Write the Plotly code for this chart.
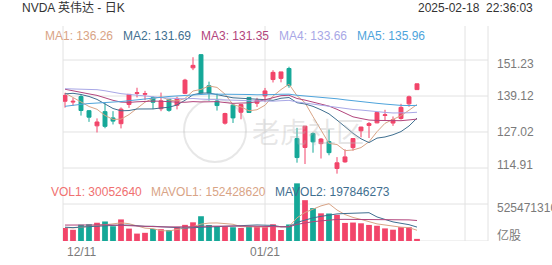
import plotly.graph_objects as go
import numpy as np

# ---------------- data ----------------
dates = ["12/11", "12/12", "12/13", "12/16", "12/17", "12/18", "12/19", "12/20", "12/23", "12/24",
         "12/26", "12/27", "12/30", "12/31", "01/02", "01/03", "01/06", "01/07", "01/08", "01/10",
         "01/13", "01/14", "01/15", "01/16", "01/17", "01/21", "01/22", "01/23", "01/24", "01/27",
         "01/28", "01/29", "01/30", "01/31", "02/03", "02/04", "02/05", "02/06", "02/07", "02/10",
         "02/11", "02/12", "02/13", "02/14", "02/18"]
opens = [137.36, 137.08, 138.94, 134.18, 129.09, 133.86, 131.76, 129.81, 136.28, 140.00,
         139.70, 138.55, 134.83, 138.03, 136.00, 140.01, 148.59, 153.03, 142.58, 137.45,
         129.99, 136.05, 133.65, 138.64, 136.69, 139.16, 144.66, 145.05, 148.37, 124.80,
         121.81, 126.50, 123.10, 123.78, 114.75, 116.96, 121.76, 127.42, 129.22, 130.09,
         132.58, 130.02, 131.56, 136.48, 141.27]
highs = [140.17, 138.44, 139.60, 134.40, 131.59, 136.70, 134.03, 135.28, 139.79, 141.90,
         140.85, 139.02, 140.27, 138.07, 138.88, 144.90, 152.16, 153.13, 143.95, 139.92,
         133.49, 136.38, 136.45, 138.75, 138.50, 141.83, 147.79, 147.23, 148.97, 128.40,
         129.00, 126.89, 125.00, 127.85, 118.57, 121.20, 125.00, 128.77, 130.37, 133.00,
         134.48, 132.24, 136.50, 139.25, 143.30]
lows = [135.21, 135.80, 132.54, 130.42, 126.86, 128.28, 129.55, 128.22, 135.12, 138.65,
        137.73, 134.71, 134.02, 133.83, 134.63, 139.73, 147.82, 140.01, 137.56, 134.22,
        129.51, 130.05, 131.29, 133.49, 135.46, 137.09, 143.67, 143.72, 141.88, 116.70,
        116.25, 120.05, 118.10, 119.19, 113.01, 116.70, 120.76, 125.21, 125.00, 129.96,
        131.02, 129.08, 131.17, 135.50, 141.20]
closes = [139.31, 137.34, 134.25, 132.00, 130.39, 128.91, 130.68, 134.70, 139.67, 140.22,
          139.93, 137.01, 137.49, 134.29, 138.31, 144.47, 149.43, 140.14, 140.11, 135.91,
          133.23, 131.76, 136.24, 133.57, 137.71, 140.83, 147.07, 147.22, 142.62, 118.42,
          128.99, 123.70, 124.65, 120.07, 116.66, 118.65, 124.83, 128.68, 129.84, 133.57,
          132.80, 131.14, 135.29, 138.85, 143.22]
volumes_m = [184.9, 159.2, 231.5, 237.9, 259.4, 277.4, 209.7, 306.5, 176.1, 105.2,
             116.2, 170.6, 167.7, 155.7, 198.2, 229.3, 265.4, 351.8, 227.3, 207.6,
             204.8, 195.6, 185.2, 209.2, 201.2, 197.7, 237.7, 155.9, 234.7, 818.8,
             579.7, 467.1, 392.9, 390.4, 371.2, 256.6, 262.2, 251.5, 228.2, 216.9,
             178.9, 160.3, 197.4, 195.5, 30.05]

# history before the first visible day (used only to warm up the moving averages)
prior_close = [113.37, 117.87, 116.00, 116.26, 120.87, 123.51, 124.04, 121.40, 121.44,
               117.00, 118.85, 122.85, 124.92, 127.72, 132.89, 132.65, 134.81, 134.80, 138.07,
               131.60, 135.72, 136.93, 138.00, 143.71, 143.59, 139.56, 140.41, 141.54, 140.52,
               141.25, 139.34, 132.76,
               135.40, 136.05, 139.91, 145.61, 148.88, 147.63, 145.26, 148.29, 146.27, 146.76,
               141.98, 140.15, 147.01, 145.89, 146.67, 141.95, 136.02, 136.92, 135.34, 138.25,
               138.63, 140.26, 145.14, 145.06, 142.44, 138.81, 135.07]
prior_volume_m = [191.9, 194.5, 250.1, 221.9, 227.8, 309.9, 400.9, 236.4, 344.9, 183.4,
                  226.4, 141.9, 171.7, 247.6, 231.2, 172.6, 188.1, 189.3, 210.0]

ma_periods = [5, 10, 20, 30, 60]
ma_labels = ["MA1: 136.26", "MA2: 131.69", "MA3: 131.35", "MA4: 133.66", "MA5: 135.96"]
vol_ma_periods = [5, 10, 20]
vol_labels = ["VOL1: 30052640", "MAVOL1: 152428620", "MAVOL2: 197846273"]

price_ticks = [151.23, 139.12, 127.02, 114.91]
vol_tick = 525471310
x_labels = [("12/11", 0), ("01/21", 25)]

# ---------------- styles ----------------
W, H = 552, 265
RED = "#f2456a"
TEAL = "#15a898"
MA_COLORS = ["#d9a486", "#3f6f90", "#b2457c", "#a8a7e6", "#4ea4dc"]
VOL_MA_COLORS = ["#d9a486", "#3f6f90", "#b2457c"]
VOL_TEXT_COLORS = ["#f07070", "#d9a486", "#3f6f90"]
GRID = "#e2e2e2"
FONT = "Liberation Sans, Arial, Noto Sans CJK SC, sans-serif"


def px(xp):
    return xp / W


def py(yp):
    return 1 - yp / H


def rolling(values, prior, p):
    allv = list(prior) + list(values)
    n0 = len(prior)
    return [float(np.mean(allv[n0 + i - p + 1:n0 + i + 1])) for i in range(len(values))]


n = len(dates)
xs = list(range(n))
volumes = [v * 1e6 for v in volumes_m]
prior_volume = [v * 1e6 for v in prior_volume_m]

fig = go.Figure()

# price
fig.add_trace(go.Candlestick(
    x=xs, open=opens, high=highs, low=lows, close=closes,
    increasing=dict(line=dict(color=RED, width=1), fillcolor=RED),
    decreasing=dict(line=dict(color=TEAL, width=1), fillcolor=TEAL),
    xaxis="x", yaxis="y", hoverinfo="skip"))

for p, c in zip(ma_periods, MA_COLORS):
    fig.add_trace(go.Scatter(x=xs, y=rolling(closes, prior_close, p), mode="lines",
                             line=dict(color=c, width=1), xaxis="x", yaxis="y",
                             hoverinfo="skip"))

# volume
bar_colors = [RED if c >= o else TEAL for o, c in zip(opens, closes)]
fig.add_trace(go.Bar(x=xs, y=volumes, marker=dict(color=bar_colors, line=dict(width=0)),
                     width=0.72, xaxis="x", yaxis="y2", hoverinfo="skip"))
for p, c in zip(vol_ma_periods, VOL_MA_COLORS):
    fig.add_trace(go.Scatter(x=xs, y=rolling(volumes, prior_volume, p), mode="lines",
                             line=dict(color=c, width=1), xaxis="x", yaxis="y2",
                             hoverinfo="skip"))

# axis geometry (pixels)
X_LEFT, X_RIGHT = 63, 488
P_TOP_TICK, P_BOT_TICK = 60, 168
P_DOM_TOP, P_DOM_BOT = 40, 178
scale = (P_BOT_TICK - P_TOP_TICK) / (price_ticks[0] - price_ticks[-1])
p_hi = price_ticks[0] + (P_TOP_TICK - P_DOM_TOP) / scale
p_lo = price_ticks[-1] - (P_DOM_BOT - P_BOT_TICK) / scale

V_BOT, V_TICK, V_TOP = 241, 204, 182
v_hi = vol_tick * (V_BOT - V_TOP) / (V_BOT - V_TICK)

step = 8.0
x0_px = 65
x_lo = (X_LEFT - x0_px) / step
x_hi = (X_RIGHT - x0_px) / step

shapes = []
# horizontal grid lines
for t in price_ticks:
    shapes.append(dict(type="line", xref="paper", yref="y", x0=px(X_LEFT), x1=px(X_RIGHT),
                       y0=t, y1=t, line=dict(color=GRID, width=1), layer="below"))
for t in [vol_tick, 0]:
    shapes.append(dict(type="line", xref="paper", yref="y2", x0=px(X_LEFT), x1=px(X_RIGHT),
                       y0=t, y1=t, line=dict(color=GRID, width=1), layer="below"))
# vertical grid lines
for xp in [X_LEFT, X_RIGHT]:
    shapes.append(dict(type="line", xref="paper", yref="paper", x0=px(xp), x1=px(xp),
                       y0=py(241), y1=py(26), line=dict(color=GRID, width=1), layer="below"))
for xv in [25, 50]:
    shapes.append(dict(type="line", xref="x", yref="paper", x0=xv, x1=xv,
                       y0=py(241), y1=py(26), line=dict(color=GRID, width=1), layer="below"))
# watermark circle
shapes.append(dict(type="circle", xref="paper", yref="paper", x0=px(184), x1=px(246),
                   y0=py(162), y1=py(99), line=dict(color="rgba(185,185,185,0.35)", width=2),
                   layer="below"))

ann = []


def text(x, y, s, color, size=12, xanchor="left", yanchor="middle", xref="paper", yref="paper"):
    ann.append(dict(x=x, y=y, xref=xref, yref=yref, text=s, showarrow=False,
                    xanchor=xanchor, yanchor=yanchor,
                    font=dict(family=FONT, size=size, color=color)))


text(px(20), py(8), "NVDA 英伟达 - 日K", "#333333")
text(px(535), py(8), "2025-02-18\u00a0\u00a022:36:03", "#333333", xanchor="right")

ma_x = [43, 121, 199, 277, 355]
for s, c, xp in zip(ma_labels, MA_COLORS, ma_x):
    text(px(xp), py(36), s, c)

vol_x = [49, 149, 273]
for s, c, xp in zip(vol_labels, VOL_TEXT_COLORS, vol_x):
    text(px(xp), py(192), s, c)

# right axis labels
label_offsets = [4, 0, 0, -3]
for t, off in zip(price_ticks, label_offsets):
    ann.append(dict(x=px(495), y=t, xref="paper", yref="y", text=f"{t:.2f}", showarrow=False,
                    xanchor="left", yanchor="middle", yshift=-off,
                    font=dict(family=FONT, size=12, color="#7a7a7a")))
ann.append(dict(x=px(495), y=vol_tick, xref="paper", yref="y2", text=str(vol_tick),
                showarrow=False, xanchor="left", yanchor="middle", yshift=-4,
                font=dict(family=FONT, size=12, color="#7a7a7a")))
ann.append(dict(x=px(495), y=0, xref="paper", yref="y2", text="亿股",
                showarrow=False, xanchor="left", yanchor="middle", yshift=6,
                font=dict(family=FONT, size=12, color="#7a7a7a")))

# x labels
for s, xv in x_labels:
    if xv == 0:
        text(px(65), py(251.5), s, "#7a7a7a")
    else:
        ann.append(dict(x=xv, y=py(251.5), xref="x", yref="paper", text=s, showarrow=False,
                        xanchor="center", yanchor="middle",
                        font=dict(family=FONT, size=12, color="#7a7a7a")))

# watermark text
text(px(250), py(133), "老虎社区", "rgba(185,185,185,0.35)", size=28)

fig.update_layout(
    width=W, height=H, margin=dict(l=0, r=0, t=0, b=0),
    paper_bgcolor="white", plot_bgcolor="white",
    showlegend=False, hovermode=False,
    xaxis=dict(domain=[px(X_LEFT), px(X_RIGHT)], range=[x_lo, x_hi], showgrid=False,
               zeroline=False, showticklabels=False, showline=False, ticks="",
               rangeslider=dict(visible=False), fixedrange=True),
    yaxis=dict(domain=[py(P_DOM_BOT), py(P_DOM_TOP)], range=[p_lo, p_hi], showgrid=False,
               zeroline=False, showticklabels=False, showline=False, ticks="", fixedrange=True),
    yaxis2=dict(domain=[py(V_BOT), py(V_TOP)], range=[0, v_hi], showgrid=False,
                zeroline=False, showticklabels=False, showline=False, ticks="",
                fixedrange=True),
    bargap=0.28,
    shapes=shapes, annotations=ann,
)

fig.write_html("out.html")
